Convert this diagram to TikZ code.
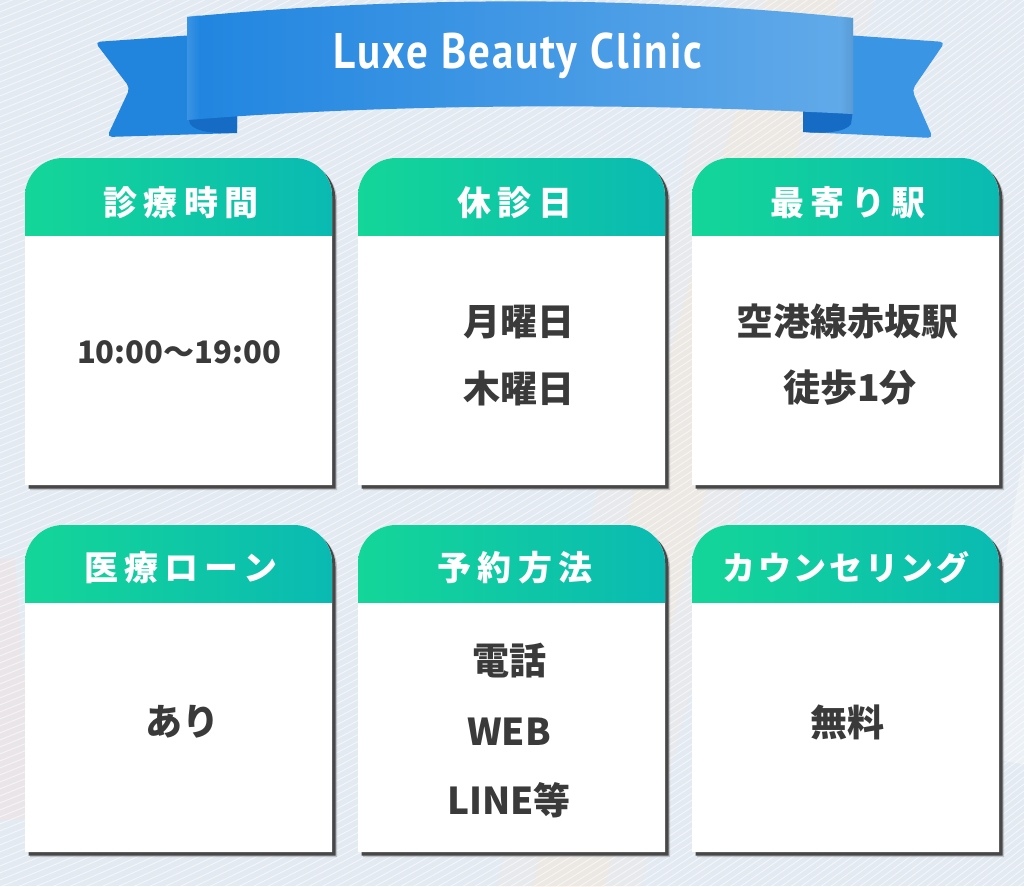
\documentclass[tikz,border=0pt]{standalone}
\usepackage{fontspec}
\newfontfamily\jp{Noto Sans CJK JP}
\newfontfamily\titlefont{PT Sans}[FakeStretch=0.86]
\definecolor{bgbase}{RGB}{227,234,242}
\definecolor{hdrL}{RGB}{20,214,152}
\definecolor{hdrR}{RGB}{10,186,178}
\definecolor{bodytxt}{RGB}{58,58,58}
\definecolor{ribL}{RGB}{32,133,224}
\definecolor{ribR}{RGB}{98,170,233}
\definecolor{tailL}{RGB}{33,133,222}
\definecolor{tailR}{RGB}{58,150,228}
\definecolor{curl}{RGB}{22,108,196}
\definecolor{peach}{RGB}{250,230,212}
\tikzset{
  hdr/.style={font=\jp\bfseries\fontsize{34}{40}\selectfont\addfontfeatures{LetterSpace=18}, text=white, inner sep=0pt},
  hdrnarrow/.style={font=\jp\bfseries\fontsize{33}{40}\selectfont\addfontfeatures{LetterSpace=8}, text=white, inner sep=0pt},
  bodytext/.style={font=\jp\bfseries\fontsize{37}{44}\selectfont, text=bodytxt, inner sep=0pt},
  bodynum/.style={font=\jp\bfseries\fontsize{31}{40}\selectfont, text=bodytxt, inner sep=0pt},
  titletext/.style={font=\titlefont\bfseries\fontsize{50}{56}\selectfont\addfontfeatures{LetterSpace=4}, inner sep=0pt},
  bgline/.style={white, opacity=0.6, line width=0.9pt},
  shadowfill/.style={fill=black!72},
}
\newcommand\cardpath[3]{% x1, yt, yb
  (#1,#3) -- (#1,#2+38) arc[start angle=180,end angle=270,radius=38] -- (#1+307-38,#2) arc[start angle=270,end angle=360,radius=38] -- (#1+307,#3) -- cycle}
\newcommand\mycard[2]{% x1, yt
  \pgfmathsetmacro\cyb{#2+327}
  \pgfmathsetmacro\cyh{#2+77}
  \pgfmathsetmacro\cxs{#1+3.5}
  \pgfmathsetmacro\cys{#2+3.5}
  \pgfmathsetmacro\cybs{\cyb+3.5}
  \fill[black!40,opacity=0.5] \cardpath{\cxs+1.5}{\cys+1.5}{\cybs+1.5};
  \fill[shadowfill] \cardpath{\cxs}{\cys}{\cybs};
  \fill[white] \cardpath{#1}{#2}{\cyb};
  \begin{scope}
    \clip \cardpath{#1}{#2}{\cyb};
    \shade[left color=hdrL,right color=hdrR] (#1,#2) rectangle (#1+307,\cyh);
  \end{scope}
}
\begin{document}
\begin{tikzpicture}[x=1pt,y=-1pt]
\useasboundingbox (0,0) rectangle (1024,886);
\begin{scope}
\clip (0,0) rectangle (1024,886);
\fill[bgbase] (0,0) rectangle (1024,886);
% iridescent streak
\draw[peach, opacity=0.18, line width=140pt] (810,-30) .. controls (720,300) and (640,600) .. (560,920);
\draw[peach, opacity=0.30, line width=70pt] (810,-30) .. controls (720,300) and (640,600) .. (560,920);
\draw[white, opacity=0.35, line width=60pt] (1060,420) -- (1000,760);
\draw[peach!70!pink, opacity=0.25, line width=50pt] (-10,560) -- (10,820);
% fine lines
\foreach \k in {0,...,240} {
  \draw[bgline] (-60,\k*7) .. controls (340,\k*7-150) and (700,\k*7-370) .. (1100,\k*7-690);
}
\end{scope}

% ribbon tails
\fill[tailL, rounded corners=5pt] (95,42) -- (237,32) -- (237,133) -- (107,137) -- (130,88) -- cycle;
\fill[tailR, rounded corners=5pt] (803,32) -- (945,42) -- (912,90) -- (933,138) -- (803,132) -- cycle;
\fill[curl] (187,112) -- (237,110) -- (237,133) .. controls (215,134) and (196,132) .. (190,124) -- cycle;
\fill[curl] (853,110) -- (803,108) -- (803,132) .. controls (825,134) and (846,132) .. (851,124) -- cycle;
% ribbon band
\shade[left color=ribL,right color=ribR] (187,17) .. controls (400,-4) and (640,-4) .. (853,18) -- (853,114) .. controls (640,103) and (400,103) .. (187,120) -- cycle;
\shade[left color=ribL!80!white, right color=ribL, opacity=0.6] (187,17) .. controls (192,16) .. (200,15.5) -- (200,119) .. controls (192,119.5) .. (187,120) -- cycle;
\shade[left color=ribR, right color=ribR!85!black, opacity=0.6] (840,16.5) .. controls (847,17) .. (853,18) -- (853,114) .. controls (847,113.5) .. (840,113) -- cycle;
\node[titletext, text=white] (title) at (518,56) {Luxe Beauty Clinic};

% cards
\mycard{25}{158}
\mycard{358}{158}
\mycard{692}{158}
\mycard{25}{525}
\mycard{358}{525}
\mycard{692}{525}

\node[hdr] (h1) at (181,203) {診療時間};
\node[hdr] (h2) at (515,203) {休診日};
\node[hdr] (h3) at (848,203) {最寄り駅};
\node[hdr] (h4) at (181,568) {医療ローン};
\node[hdr] (h5) at (515,568) {予約方法};
\node[hdrnarrow] (h6) at (846,568) {カウンセリング};

\node[bodynum] (t1) at (179,352) {10:00〜19:00};
\node[bodytext] (t2a) at (519,322) {月曜日};
\node[bodytext] (t2b) at (519,388) {木曜日};
\node[bodytext] (t3a) at (847,322) {空港線赤坂駅};
\node[bodytext] (t3b) at (850,388) {徒歩1分};
\node[bodytext] (t4) at (182,722) {あり};
\node[bodytext] (t5a) at (509,661) {電話};
\node[bodytext] (t5b) at (509,732) {WEB};
\node[bodytext] (t5c) at (509,800) {LINE等};
\node[bodytext] (t6) at (847,722) {無料};
\end{tikzpicture}
\end{document}
